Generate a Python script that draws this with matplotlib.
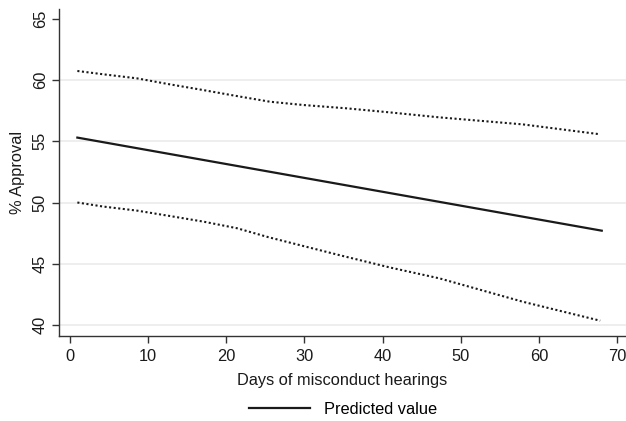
import matplotlib
matplotlib.use("Agg")
import matplotlib.pyplot as plt

# Data
days = [1, 68]
predicted = [55.3, 47.7]

upper_days = [1, 4.3, 8.6, 12.8, 17.1, 21.4, 25.6, 29.9, 35.4, 40.9, 47.3, 57.9, 67.8]
upper_ci = [60.74, 60.47, 60.14, 59.65, 59.18, 58.69, 58.23, 57.96, 57.69, 57.36, 56.95, 56.38, 55.57]

lower_days = [1, 4.3, 8.6, 12.8, 17.1, 21.4, 25.4, 34.5, 40.9, 47.3, 57.9, 67.8]
lower_ci = [50.0, 49.67, 49.34, 48.9, 48.44, 47.9, 47.17, 45.7, 44.7, 43.8, 41.9, 40.35]

x_ticks = [0, 10, 20, 30, 40, 50, 60, 70]
y_ticks = [40, 45, 50, 55, 60, 65]
grid_vals = [40, 45, 50, 55, 60]

plt.rcParams['font.family'] = ['Liberation Sans', 'DejaVu Sans']
FS = 11.8

fig = plt.figure(figsize=(6.26, 4.21), dpi=100)
ax = fig.add_axes([0.0942, 0.2019, 0.9058, 0.7767])

for g in grid_vals:
    ax.axhline(g, color='#ebebeb', lw=1.2, zorder=0)

ax.plot(upper_days, upper_ci, color='#1a1a1a', lw=1.5, ls=(0, (1, 1.2)))
ax.plot(lower_days, lower_ci, color='#1a1a1a', lw=1.5, ls=(0, (1, 1.2)))
line, = ax.plot(days, predicted, color='#1a1a1a', lw=1.6, label='Predicted value')

ax.set_xlim(-1.35, 71.1)
ax.set_ylim(39.1, 65.8)
ax.set_xticks(x_ticks)
ax.set_yticks(y_ticks)
ax.set_yticklabels([str(v) for v in y_ticks], rotation=90, va='center')

for s in ['top', 'right']:
    ax.spines[s].set_visible(False)
for s in ['left', 'bottom']:
    ax.spines[s].set_color('#333333')
    ax.spines[s].set_linewidth(1.0)

ax.tick_params(axis='both', colors='#333333', labelcolor='#1a1a1a',
               labelsize=FS, length=5, width=1.0, direction='out')
ax.tick_params(axis='y', pad=3)
ax.tick_params(axis='x', pad=4)

ax.set_xlabel('Days of misconduct hearings', fontsize=FS, color='#1a1a1a', labelpad=7)
ax.set_ylabel('% Approval', fontsize=FS, color='#1a1a1a', labelpad=6)

fig.legend(handles=[line], loc='center', bbox_to_anchor=(0.548, 0.027),
           frameon=False, fontsize=FS, handlelength=3.7, handletextpad=0.85)

fig.savefig('out.png', dpi=100, facecolor='white')
